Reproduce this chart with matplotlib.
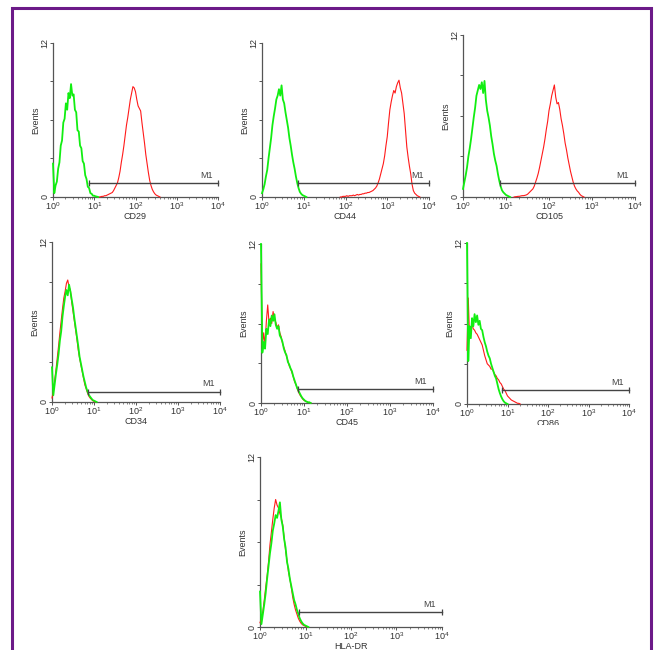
import numpy as np
import matplotlib
matplotlib.use('Agg')
from matplotlib import pyplot as plt
from matplotlib.patches import Rectangle
from matplotlib.ticker import LogLocator, NullFormatter

plt.rcParams['font.family'] = ['Liberation Sans', 'DejaVu Sans']
plt.rcParams['mathtext.default'] = 'regular'

# log channels: 32 channels per decade, 4 decades (10^0 .. 10^4)
CH_PER_DECADE = 32

markers = ['CD29', 'CD44', 'CD105', 'CD34', 'CD45', 'CD86', 'HLA-DR']

# isotype control (green), events per channel starting at channel 0
cd29_iso = [2.6, 0.3, 0.9, 1.2, 2.2, 2.7, 4.0, 4.4, 5.8, 6.1, 7.3, 6.8, 8.1, 7.7, 8.8, 7.9,
            8.0, 6.8, 6.6, 5.2, 5.1, 4.0, 3.8, 2.8, 2.6, 1.7, 1.4, 0.8, 0.7, 0.3, 0.25, 0.1,
            0.1, 0.05, 0.03, 0]
cd44_iso = [0.3, 0.6, 1.0, 1.6, 2.1, 3.0, 3.8, 4.6, 5.6, 6.3, 6.9, 7.6, 7.9, 8.4, 7.9, 8.7,
            7.6, 7.3, 6.6, 6.0, 5.4, 4.6, 4.0, 3.3, 2.7, 2.2, 1.6, 1.1, 0.7, 0.4, 0.25, 0.15,
            0.1, 0.05, 0]
cd105_iso = [0.6, 1.1, 1.6, 2.2, 3.0, 3.6, 4.3, 5.1, 5.9, 6.6, 7.5, 7.9, 8.3, 8.0, 8.5, 7.7,
             8.6, 7.2, 6.4, 5.9, 5.3, 4.5, 3.9, 3.2, 2.7, 2.3, 1.7, 1.2, 0.8, 0.5, 0.35, 0.25,
             0.15, 0.1, 0.05, 0]
cd34_iso = [2.6, 0.5, 1.3, 2.1, 2.8, 3.6, 4.6, 5.3, 6.4, 7.2, 7.9, 8.4, 8.0, 8.8, 8.3, 7.7,
            7.1, 6.3, 5.6, 4.9, 4.2, 3.4, 2.9, 2.4, 1.9, 1.5, 1.1, 0.8, 0.55, 0.4, 0.27, 0.15,
            0.1, 0.05, 0]
cd45_iso = [12.0, 3.8, 4.6, 4.1, 5.6, 5.2, 6.3, 5.8, 6.6, 6.2, 6.7, 5.9, 5.6, 5.8, 5.1, 4.9,
            4.6, 4.1, 3.8, 3.6, 3.1, 2.9, 2.6, 2.4, 2.0, 1.7, 1.4, 1.1, 0.9, 0.7, 0.5, 0.35,
            0.25, 0.15, 0.1, 0.05, 0.05, 0]
cd86_iso = [12.0, 3.2, 5.8, 4.9, 6.4, 5.8, 6.7, 6.1, 6.6, 5.9, 6.2, 5.6, 5.5, 5.0, 4.6, 4.3,
            3.9, 3.6, 3.4, 3.0, 2.7, 2.4, 2.1, 1.9, 1.5, 1.1, 0.8, 0.55, 0.35, 0.2, 0.1, 0.05, 0]
hladr_iso = [2.5, 0.2, 0.9, 1.6, 2.4, 3.4, 4.3, 5.2, 5.9, 6.8, 7.3, 7.9, 7.7, 8.2, 8.8, 7.6,
             7.1, 6.2, 5.6, 4.6, 4.1, 3.4, 2.9, 2.4, 1.9, 1.6, 1.2, 0.9, 0.6, 0.4, 0.25, 0.15,
             0.1, 0.05, 0]

# stained sample (red), events per channel starting at the given channel
cd29_stain_start = 36
cd29_stain = [0, 0.02, 0.05, 0.05, 0.1, 0.1, 0.15, 0.2, 0.25, 0.3, 0.35, 0.5, 0.7, 0.9, 1.1, 1.5,
              2.0, 2.7, 3.3, 4.0, 4.8, 5.6, 6.2, 6.9, 7.6, 8.1, 8.6, 8.5, 8.2, 7.6, 7.1, 6.9,
              6.7, 5.8, 5.0, 4.2, 3.3, 2.6, 1.9, 1.3, 0.9, 0.6, 0.4, 0.25, 0.15, 0.1, 0.05, 0]
cd44_stain_start = 60
cd44_stain = [0, 0, 0.05, 0.05, 0.05, 0.1, 0.05, 0.1, 0.1, 0.1, 0.15, 0.1, 0.15, 0.2, 0.15, 0.2,
              0.2, 0.25, 0.25, 0.3, 0.3, 0.35, 0.35, 0.4, 0.45, 0.5, 0.6, 0.7, 0.85, 1.1, 1.4,
              1.8, 2.2, 2.6, 3.2, 4.0, 4.7, 5.8, 6.8, 7.4, 7.9, 8.3, 8.1, 8.6, 8.9, 9.1, 8.5,
              8.1, 7.3, 6.5, 5.2, 3.9, 3.1, 2.4, 1.8, 1.0, 0.5, 0.3, 0.2, 0.1, 0.05, 0]
cd105_stain_start = 38
cd105_stain = [0, 0.02, 0.03, 0.05, 0.05, 0.08, 0.1, 0.1, 0.12, 0.15, 0.2, 0.3, 0.4, 0.5, 0.6,
               0.8, 1.1, 1.4, 1.75, 2.2, 2.7, 3.2, 3.7, 4.3, 5.0, 5.6, 6.4, 6.9, 7.5, 7.9, 8.3,
               7.4, 6.9, 7.0, 6.5, 5.8, 5.3, 4.7, 4.0, 3.5, 2.9, 2.4, 1.9, 1.5, 1.1, 0.8, 0.6,
               0.45, 0.35, 0.2, 0.1, 0.05, 0]
cd34_stain_start = 0
cd34_stain = [0.3, 0.8, 1.6, 2.4, 3.3, 4.2, 5.2, 6.1, 7.0, 7.8, 8.3, 8.9, 9.15, 8.6, 8.4, 7.5,
              6.8, 6.1, 5.4, 4.7, 3.9, 3.3, 2.8, 2.3, 1.8, 1.3, 1.0, 0.7, 0.45, 0.3, 0.2, 0.1,
              0.05, 0]
cd45_stain_start = 0
cd45_stain = [10.5, 4.2, 5.3, 4.4, 6.2, 7.4, 6.0, 6.4, 6.0, 6.9, 6.3, 6.1, 5.7, 5.9, 5.3, 5.0,
              4.5, 4.2, 3.9, 3.5, 3.2, 2.8, 2.6, 2.3, 2.0, 1.6, 1.4, 1.1, 0.8, 0.6, 0.45, 0.3,
              0.2, 0.15, 0.1, 0.05, 0.05, 0]
cd86_stain_start = 0
cd86_stain = [4.0, 7.9, 5.0, 5.6, 5.9, 5.6, 5.5, 5.3, 5.2, 5.0, 4.8, 4.6, 4.4, 4.0, 3.6, 3.3,
              3.0, 2.9, 2.8, 2.6, 2.6, 2.4, 2.2, 2.1, 1.9, 1.8, 1.6, 1.5, 1.3, 1.1, 1.0, 0.8,
              0.6, 0.5, 0.4, 0.3, 0.25, 0.2, 0.15, 0.1, 0.05, 0.05, 0]
hladr_stain_start = 0
hladr_stain = [0.3, 0.6, 1.1, 1.9, 2.8, 3.6, 4.6, 5.8, 6.7, 7.6, 8.4, 9.0, 8.6, 8.4, 8.0, 7.7,
               7.2, 6.3, 5.4, 4.7, 3.9, 3.4, 2.8, 2.1, 1.6, 1.2, 0.9, 0.6, 0.4, 0.25, 0.15, 0.1,
               0.05, 0]

iso_data = [cd29_iso, cd44_iso, cd105_iso, cd34_iso, cd45_iso, cd86_iso, hladr_iso]
stain_data = [cd29_stain, cd44_stain, cd105_stain, cd34_stain, cd45_stain, cd86_stain, hladr_stain]
stain_starts = [cd29_stain_start, cd44_stain_start, cd105_stain_start, cd34_stain_start,
                cd45_stain_start, cd86_stain_start, hladr_stain_start]

# M1 gate (same start for all panels) and its height in events
m1_start = 7.3
m1_end = 1e4
m1_level = [1.1, 1.07, 1.0, 0.77, 1.03, 1.04, 1.04]

# panel boxes in pixels: left, right, top, bottom
W, H = 655, 650
boxes = [(53, 218, 43, 197), (262, 429, 43, 197), (463, 635, 35, 197),
         (52, 220, 242, 402), (261, 433, 244, 403), (467, 629, 243, 404),
         (260, 442, 457, 627)]

AXIS_COL = '#555555'
TEXT_COL = '#333333'


def draw_panel(ax, name, iso, stain, stain_start, m1_y):
    x_iso = 10 ** (np.arange(len(iso)) / CH_PER_DECADE)
    x_stain = 10 ** ((np.arange(len(stain)) + stain_start) / CH_PER_DECADE)
    ax.plot(x_stain, stain, color='#ff1a1a', lw=0.8, clip_on=False, zorder=3)
    ax.plot(x_iso, iso, color='#11ee11', lw=1.3, clip_on=False, zorder=4)

    # M1 gate bar with end caps
    ax.plot([m1_start, m1_end], [m1_y, m1_y], color='#444444', lw=1.0,
            marker='|', ms=4, mew=0.9, clip_on=False, zorder=5)
    ax.text(10 ** 3.72, m1_y + 0.25, 'M1', fontsize=6.5, color='#444444',
            ha='center', va='bottom')

    ax.set_xscale('log')
    ax.set_xlim(1, 1e4)
    ax.set_ylim(0, 12)
    for s in ['top', 'right']:
        ax.spines[s].set_visible(False)
    for s in ['left', 'bottom']:
        ax.spines[s].set_color(AXIS_COL)
        ax.spines[s].set_linewidth(0.9)

    ax.set_xticks([1, 10, 100, 1000, 10000])
    ax.set_xticklabels(['$10^{%d}$' % k for k in range(5)])
    ax.xaxis.set_minor_locator(LogLocator(base=10, subs=np.arange(2, 10)))
    ax.xaxis.set_minor_formatter(NullFormatter())
    ax.set_yticks([0, 3, 6, 9, 12])
    ax.set_yticklabels(['0', '', '', '', '12'], rotation=90, va='center')
    ax.tick_params(which='major', length=2, width=0.7, color=AXIS_COL,
                   labelsize=6.5, labelcolor=TEXT_COL, pad=0.5)
    ax.tick_params(which='minor', length=1.5, width=0.5, color=AXIS_COL)
    ax.set_xlabel(name, fontsize=6.5, color=TEXT_COL, labelpad=0)
    ax.set_ylabel('Events', fontsize=6.5, color=TEXT_COL, labelpad=0)


fig = plt.figure(figsize=(W / 100, H / 100), dpi=100)

for i, name in enumerate(markers):
    x0, x1, y0, y1 = boxes[i]
    ax = fig.add_axes([x0 / W, 1 - y1 / H, (x1 - x0) / W, (y1 - y0) / H])
    draw_panel(ax, name, iso_data[i], stain_data[i], stain_starts[i], m1_level[i])

# the label under the sixth panel is partly hidden in the original
fig.add_artist(Rectangle((525 / W, 1 - 440 / H), 50 / W, 15.5 / H, transform=fig.transFigure,
                         facecolor='white', edgecolor='none', zorder=20))

# purple frame around the figure (bottom edge runs off the image)
fig.add_artist(Rectangle((12 / W, -0.05), (651 - 12) / W, 1.05 - 8 / H,
                         transform=fig.transFigure, fill=False,
                         edgecolor='#6c1a88', lw=2.2, zorder=30))

plt.savefig('out.png', dpi=100)
